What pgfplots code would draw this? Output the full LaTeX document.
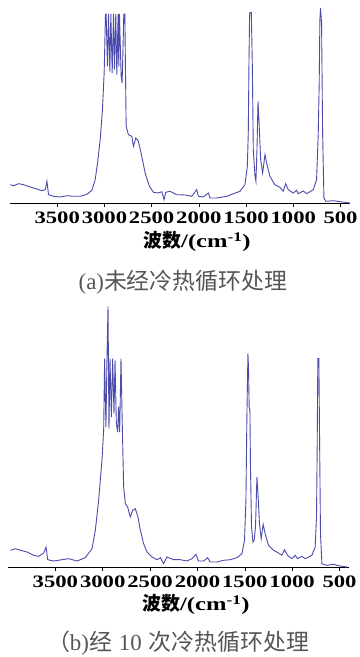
\documentclass[border=0pt]{standalone}
\usepackage{pgfplots}
\pgfplotsset{compat=1.18}
\usepackage{pgfplotstable}
\usepackage{fontspec}
\setmainfont{Liberation Serif}
\newfontfamily\cjk{Noto Sans CJK SC}
\newfontfamily\tickfont[FakeStretch=1.3, BoldFeatures={FakeStretch=1.3}]{Liberation Serif}
\definecolor{spec}{RGB}{75,75,172}
\definecolor{capgray}{RGB}{85,85,85}

\pgfplotstableread{
wn v
3997 18.3
3962 17.3
3909 19.3
3856 18.3
3786 16
3715 14
3662 12.3
3627 13.3
3609 21.7
3592 8.3
3539 6.7
3468 6
3398 7.3
3327 6.7
3257 6.7
3186 8.7
3133 12.7
3098 23.3
3073 40
3045 63.3
3021 93.3
3003 130
2989 189
2982 189
2968 136.7
2957 189
2943 131.7
2932 189
2918 130
2904 189
2894 133.3
2880 189
2869 128.3
2855 189
2848 136.7
2841 189
2823 126.7
2813 120
2802 160
2795 189
2784 189
2777 130
2770 76.7
2746 68.3
2710 66.7
2693 56.7
2668 65
2640 61.7
2605 46.7
2569 30
2524 16.7
2481 10.7
2428 10
2393 11.3
2368 3.3
2351 10.7
2305 11.7
2235 8.3
2146 8
2076 6.7
2023 13.3
2005 6.7
1953 6
1900 10
1882 5
1812 5
1706 6.7
1635 9.3
1565 11.7
1512 18.3
1487 36.7
1477 70
1470 136.7
1463 190
1445 190.7
1434 136.7
1424 53.3
1406 26.7
1396 21.7
1385 53.3
1374 101.7
1361 76.7
1346 43.3
1325 30
1300 48.3
1283 40
1248 26.7
1195 18.3
1142 15.7
1107 11.7
1082 19.3
1054 13.3
1001 10
966 12.7
948 9.3
895 12
860 9.3
789 13.3
754 23.3
736 70
726 120
719 183.3
712 195
701 180
690 70
676 5
655 1.7
578 2.3
507 1.3
401 0
}\specA

\pgfplotstableread{
wn v
3975 16.7
3922 18.3
3869 16.7
3799 15
3729 11.7
3676 10.7
3623 14
3598 20
3581 7.3
3518 6
3430 7.3
3359 8.3
3271 6
3184 9.3
3113 18.3
3078 36.7
3043 66.7
3008 106.7
2990 136.7
2980 208.3
2966 140
2955 208.3
2944 260.7
2934 138.3
2923 208.3
2909 150
2895 208.3
2881 153.3
2870 206.7
2856 143.3
2842 135
2832 160
2821 135
2807 208.3
2793 140
2779 80
2761 63.3
2737 60
2709 50
2684 56.7
2656 58.3
2628 50
2603 36.7
2568 23.3
2533 15
2480 10
2427 7.3
2392 9.3
2357 3.3
2322 10
2252 7.3
2181 7.3
2111 6
2058 8.3
2016 12.7
1988 6
1935 6
1893 9.3
1865 5
1794 5
1724 6.7
1654 7.3
1583 9.3
1530 13.3
1503 26.7
1488 66.7
1478 150
1467 213.3
1461 200
1454 160
1446 156.7
1440 100
1429 40
1414 25
1401 26.7
1387 40
1372 90
1359 70
1345 43.3
1327 28.3
1306 42.7
1285 33.3
1250 21.7
1197 16.7
1144 14
1108 11.7
1081 17.3
1049 11.7
1003 8.3
968 11.7
944 8.3
897 10.7
862 8.3
792 11.7
757 20
743 50
736 116.7
729 208.3
718 208.3
711 133.3
701 33.3
686 3.3
634 1.7
564 2.7
511 1.3
423 0
}\specB

\pgfplotsset{
  irstyle/.style={
    scale only axis,
    xmin=400, xmax=4000, ymin=0,
    x dir=reverse,
    axis x line*=bottom,
    axis y line=none,
    xtick={500,1000,1500,2000,2500,3000,3500},
    tick align=outside,
    major tick length=4bp,
    xtick style={black, line width=0.6bp},
    axis line style={black, line width=0.8bp},
    /pgf/number format/assume math mode=true,
    /pgf/number format/set thousands separator={},
    xticklabel style={font=\tickfont\bfseries\fontsize{17.5}{17.5}\selectfont, inner sep=1bp, yshift=-4bp},
    xlabel style={font=\tickfont\bfseries\fontsize{19}{19}\selectfont, anchor=center},
    clip=false,
  }
}

\begin{document}
\begin{tikzpicture}
\path[use as bounding box] (0,0) rectangle (360bp,657bp);
\begin{axis}[irstyle, at={(10bp,454bp)}, anchor=south west,
  width=340bp, height=198bp, ymax=198,
  xlabel={{\cjk 波数}/(cm\textsuperscript{-1})},
  xlabel style={at={(axis description cs:0.55,-0.195)}}]
\addplot[spec, line width=0.9bp] table[x=wn, y=v] {\specA};
\end{axis}
\begin{axis}[irstyle, at={(8bp,90bp)}, anchor=south west,
  width=341bp, height=262bp, ymax=262,
  xlabel={{\cjk 波数}/(cm\textsuperscript{-1})},
  xlabel style={at={(axis description cs:0.551,-0.143)}}]
\addplot[spec, line width=0.9bp] table[x=wn, y=v] {\specB};
\end{axis}
\node[text=capgray, font=\fontsize{23}{23}\selectfont] at (178bp,14bp) {{\cjk （}b){\cjk 经}\hspace{0.3em}10\hspace{0.3em}{\cjk 次冷热循环处理}};
\node[text=capgray, font=\fontsize{23}{23}\selectfont] at (183bp,375bp) {(a){\cjk 未经冷热循环处理}};
\end{tikzpicture}
\end{document}
